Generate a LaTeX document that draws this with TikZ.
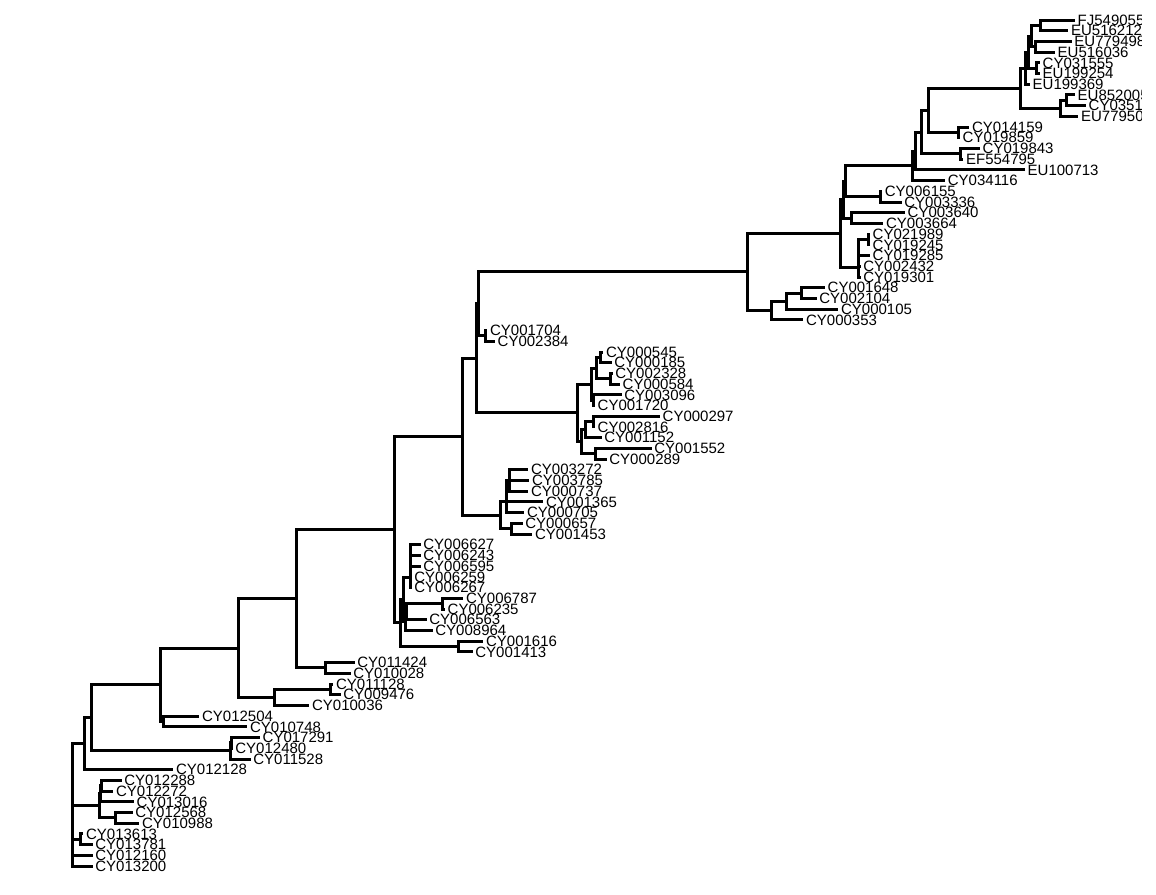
\documentclass[tikz,border=0pt]{standalone}
\usepackage{fontspec}
\setmainfont{Liberation Sans}
\begin{document}
\begin{tikzpicture}[x=1pt,y=-1pt,
  edge/.style={line width=3pt,line cap=butt,line join=miter},
  tiplab/.style={anchor=west,inner sep=0pt,xshift=2.7pt,font=\fontsize{15}{15}\selectfont}]
\useasboundingbox (0,0) rectangle (1156,894);
\fill[white] (0,0) rectangle (1156,894);

% the plotting panel ends a little short of the right margin
\begin{scope}
\clip (0,0) rectangle (1141,894);

% tips: coordinate at branch end, label to its right
\foreach \i/\x/\y/\lab in {
 1/1074.8/20.00/FJ549055, 2/1068.2/30.71/EU516212, 3/1071.5/41.42/EU779498,
 4/1054.8/52.13/EU516036, 5/1039.8/62.84/CY031555, 6/1039.8/73.55/EU199254,
 7/1029.8/84.26/EU199369, 8/1074.8/94.97/EU852005, 9/1085.8/105.68/CY035190,
 10/1078.2/116.39/EU779500, 11/969.2/127.10/CY014159, 12/959.8/137.81/CY019859,
 13/979.8/148.52/CY019843, 14/963.2/159.23/EF554795, 15/1024.8/169.94/EU100713,
 16/945.0/180.65/CY034116, 17/882.0/191.36/CY006155, 18/901.5/202.07/CY003336,
 19/904.8/212.78/CY003640, 20/883.2/223.49/CY003664, 21/869.8/234.20/CY021989,
 22/869.8/244.91/CY019245, 23/869.8/255.62/CY019285, 24/860.5/266.33/CY002432,
 25/860.5/277.04/CY019301, 26/824.8/287.75/CY001648, 27/816.5/298.46/CY002104,
 28/838.2/309.17/CY000105, 29/803.2/319.88/CY000353, 30/487.2/330.59/CY001704,
 31/494.8/341.30/CY002384, 32/603.2/352.01/CY000545, 33/611.5/362.72/CY000185,
 34/612.5/373.43/CY002328, 35/619.8/384.14/CY000584, 36/621.5/394.85/CY003096,
 37/594.8/405.56/CY001720, 38/659.8/416.27/CY000297, 39/594.8/426.98/CY002816,
 40/601.5/437.69/CY001152, 41/651.5/448.40/CY001552, 42/606.5/459.11/CY000289,
 43/528.2/469.82/CY003272, 44/529.2/480.53/CY003785, 45/528.2/491.24/CY000737,
 46/543.2/501.95/CY001365, 47/524.2/512.66/CY000705, 48/522.5/523.37/CY000657,
 49/532.2/534.08/CY001453, 50/420.5/544.79/CY006627, 51/420.5/555.50/CY006243,
 52/420.5/566.21/CY006595, 53/411.5/576.92/CY006259, 54/411.5/587.63/CY006267,
 55/463.2/598.34/CY006787, 56/444.8/609.05/CY006235, 57/426.5/619.76/CY006563,
 58/432.5/630.47/CY008964, 59/483.2/641.18/CY001616, 60/472.5/651.89/CY001413,
 61/354.5/662.60/CY011424, 62/350.5/673.31/CY010028, 63/333.2/684.02/CY011128,
 64/340.5/694.73/CY009476, 65/309.2/705.44/CY010036, 66/199.2/716.15/CY012504,
 67/247.2/726.86/CY010748, 68/259.8/737.57/CY017291, 69/232.5/748.28/CY012480,
 70/250.5/758.99/CY011528, 71/173.2/769.70/CY012128, 72/121.5/780.41/CY012288,
 73/113.2/791.12/CY012272, 74/133.8/801.83/CY013016, 75/132.5/812.54/CY012568,
 76/139.2/823.25/CY010988, 77/83.2/833.96/CY013613, 78/92.5/844.67/CY013781,
 79/92.5/855.38/CY012160, 80/92.5/866.09/CY013200}
{
  \coordinate (t\i) at (\x,\y);
  \node[tiplab] (l\i) at (t\i) {\lab};
}

% internal nodes
\foreach \n/\x/\y in {
 AK/1040/25.36, AL/1035/46.78, AM/1031.7/36.07, AN/1036.7/68.20, AO/1028/52.13,
 AF/1025/68.20, AH/1066.7/100.33, AG/1060/108.36, AD/1020.7/88.28,
 AE/958.3/132.46, AB/928.3/110.37, AC/960/153.88, ZZ/921.7/132.12,
 YY/915/151.03, SS/912/165.84, TT/880/196.72, WWb/845/181.28, UU/851.7/218.14,
 WW/843.3/199.71, XX/868.3/239.55, RRc/858.3/247.59, RRb/858.3/256.96,
 RR/858.3/267.00, QQ/840/233.36, AR/801.7/293.10, AQ/786.7/301.14,
 AP/771.7/310.51, BB/747.3/271.94, DD/485/335.95, AAb/478/303.95,
 HH/600/357.37, II/610/378.79, GG/596/368.08, EEb/593/400.21, EE/591.7/384.14,
 KK/593.3/421.63, JJ/585/429.66, LL/595/453.76, FF/581.7/441.71,
 CC/577.3/412.93, AA/476.7/358.44, PP/509/480.53, NNb/506.7/491.24,
 NN/506.7/501.95, OO/511.7/528.73, MM/500/515.34, R/462/436.89,
 T/410/577.59, W/442.7/603.70, X/406.7/611.73, Ub/405/621.10, U/403/599.35,
 Z/458.3/646.54, Y/400/622.95, P/394/529.92, Q/325/667.96, M/296.7/598.94,
 O/330.7/689.38, N/274/697.41, K/238.3/648.18, L/163.3/721.50, J/160/684.84,
 B/231.7/742.93, A/230.7/750.96, I/91.7/717.90, H/84/743.80, D/101.7/785.77,
 Cb/100.3/793.80, E/115/817.90, C/99.3/805.85, G/80.7/839.32, root/72.7/805}
{
  \coordinate (\n) at (\x,\y);
}

% branches: parent vertical, then horizontal to child
\foreach \p/\c in {
 AK/t1, AK/t2, AL/t3, AL/t4, AM/AK, AM/AL, AN/t5, AN/t6, AO/AM, AO/AN,
 AF/AO, AF/t7, AH/t8, AH/t9, AG/AH, AG/t10, AD/AF, AD/AG, AE/t11, AE/t12,
 AB/AD, AB/AE, AC/t13, AC/t14, ZZ/AB, ZZ/AC, YY/ZZ, YY/t15, SS/YY, SS/t16,
 TT/t17, TT/t18, WWb/SS, WWb/TT, UU/t19, UU/t20, WW/WWb, WW/UU,
 XX/t21, XX/t22, RRc/XX, RRc/t23, RRb/RRc, RRb/t24, RR/RRb, RR/t25,
 QQ/WW, QQ/RR, AR/t26, AR/t27, AQ/AR, AQ/t28, AP/AQ, AP/t29, BB/QQ, BB/AP,
 DD/t30, DD/t31, AAb/BB, AAb/DD, HH/t32, HH/t33, II/t34, II/t35, GG/HH, GG/II,
 EEb/t36, EEb/t37, EE/GG, EE/EEb, KK/t38, KK/t39, JJ/KK, JJ/t40, LL/t41, LL/t42,
 FF/JJ, FF/LL, CC/EE, CC/FF, AA/AAb, AA/CC, PP/t43, PP/t44, PP/t45,
 NNb/PP, NNb/t46, NN/NNb, NN/t47, OO/t48, OO/t49, MM/NN, MM/OO, R/AA, R/MM,
 T/t50, T/t51, T/t52, T/t53, T/t54, W/t55, W/t56, X/W, X/t57, Ub/X, Ub/t58,
 U/T, U/Ub, Z/t59, Z/t60, Y/U, Y/Z, P/R, P/Y, Q/t61, Q/t62, M/P, M/Q,
 O/t63, O/t64, N/O, N/t65, K/M, K/N, L/t66, L/t67, J/K, J/L, B/t68, B/t69,
 A/B, A/t70, I/J, I/A, H/I, H/t71, D/t72, D/t73, Cb/D, Cb/t74, E/t75, E/t76,
 C/Cb, C/E, G/t77, G/t78, root/H, root/C, root/G, root/t79, root/t80}
{
  \draw[edge] (\p) |- (\c);
}
\end{scope}
\end{tikzpicture}
\end{document}
